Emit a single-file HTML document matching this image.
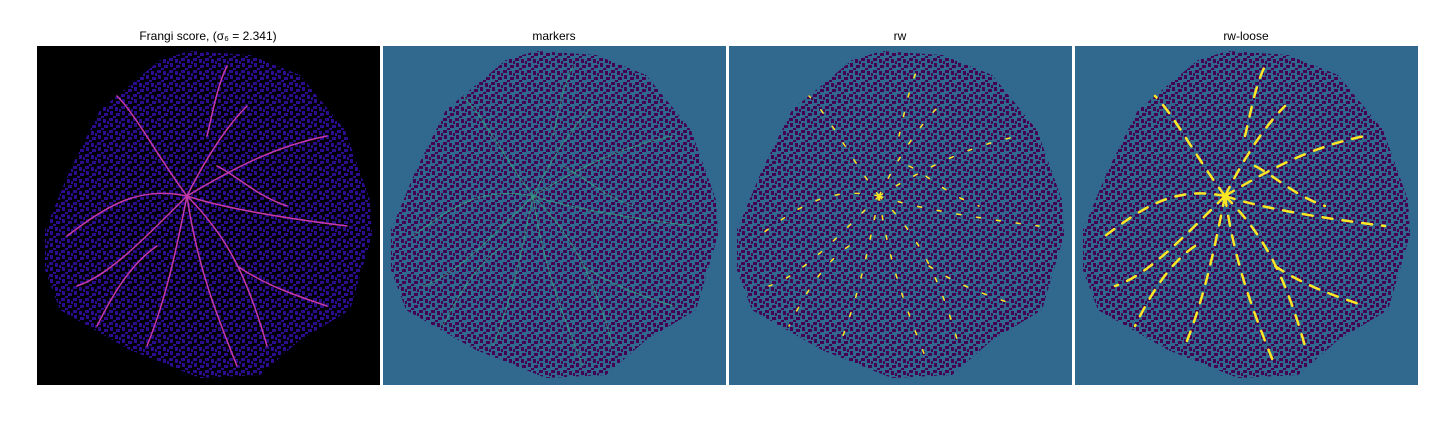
<!DOCTYPE html>
<html><head><meta charset="utf-8"><style>
body{margin:0;background:#fff;width:1440px;height:432px;overflow:hidden}
svg{display:block}
text{font-family:"Liberation Sans",sans-serif;font-size:12px;fill:#000}
</style></head><body>
<svg width="1440" height="432">
<defs>
<polygon id="blob" points="153,5 213,9 263,29 308,84 333,154 335,189 313,264 263,294 223,329 163,332 93,304 23,264 8,224 8,184 33,124 63,64 93,39 123,14"/>
<pattern id="pv" width="12" height="12" patternUnits="userSpaceOnUse">
<rect width="12" height="12" fill="#31688e"/>
<rect x="0" y="0" width="4" height="3" fill="#440154"/><rect x="6" y="1" width="3" height="4" fill="#440154"/>
<rect x="1" y="5" width="3" height="4" fill="#440154"/><rect x="7" y="7" width="4" height="3" fill="#440154"/>
<rect x="4" y="10" width="3" height="2" fill="#440154"/><rect x="10" y="3" width="2" height="3" fill="#440154"/>
</pattern>
<pattern id="pf" width="12" height="12" patternUnits="userSpaceOnUse">
<rect width="12" height="12" fill="#000"/>
<rect x="0" y="0" width="4" height="3" fill="#2a0c8c"/><rect x="6" y="1" width="3" height="4" fill="#2a0c8c"/>
<rect x="1" y="5" width="3" height="4" fill="#2a0c8c"/><rect x="7" y="7" width="4" height="3" fill="#2a0c8c"/>
<rect x="4" y="10" width="3" height="2" fill="#2a0c8c"/><rect x="10" y="3" width="2" height="3" fill="#2a0c8c"/>
</pattern>
<g id="vessels" fill="none" stroke-linecap="round">
<path d="M150,150 C170,110 190,80 210,60 M150,150 C200,120 240,100 290,90 M150,150 C100,140 70,160 30,190 M150,150 C140,200 130,250 110,300 M150,150 C190,190 210,230 230,300 M150,150 C180,160 230,170 310,180 M150,150 C120,110 100,70 80,50 M150,150 C160,220 180,270 200,320 M150,150 C100,200 70,230 40,240 M180,120 C200,130 220,150 250,160 M120,200 C90,220 70,260 60,280 M200,220 C230,240 260,250 290,260 M170,90 C175,70 180,40 190,20"/>
</g>
</defs>
<text x="208" y="40" text-anchor="middle">Frangi score, (σ₆ = 2.341)</text>
<text x="554" y="40" text-anchor="middle">markers</text>
<text x="900" y="40" text-anchor="middle">rw</text>
<text x="1246" y="40" text-anchor="middle">rw-loose</text>

<g transform="translate(37,46)">
<rect width="343" height="339" fill="#000"/>
<use href="#blob" fill="url(#pf)"/>
<use href="#vessels" stroke="#c53aa8" stroke-width="1.5"/>
</g>
<g transform="translate(383,46)">
<rect width="343" height="339" fill="#31688e"/>
<use href="#blob" fill="url(#pv)"/>
<use href="#vessels" stroke="#35b779" stroke-width="1" opacity="0.6"/>
</g>
<g transform="translate(729,46)">
<rect width="343" height="339" fill="#31688e"/>
<use href="#blob" fill="url(#pv)"/>
<use href="#vessels" stroke="#fde725" stroke-width="1.5" stroke-dasharray="4 16"/>
</g>
<g transform="translate(1075,46)">
<rect width="343" height="339" fill="#31688e"/>
<use href="#blob" fill="url(#pv)"/>
<use href="#vessels" stroke="#fde725" stroke-width="2.5" stroke-dasharray="10 10"/>
</g>
</svg>
</body></html>
